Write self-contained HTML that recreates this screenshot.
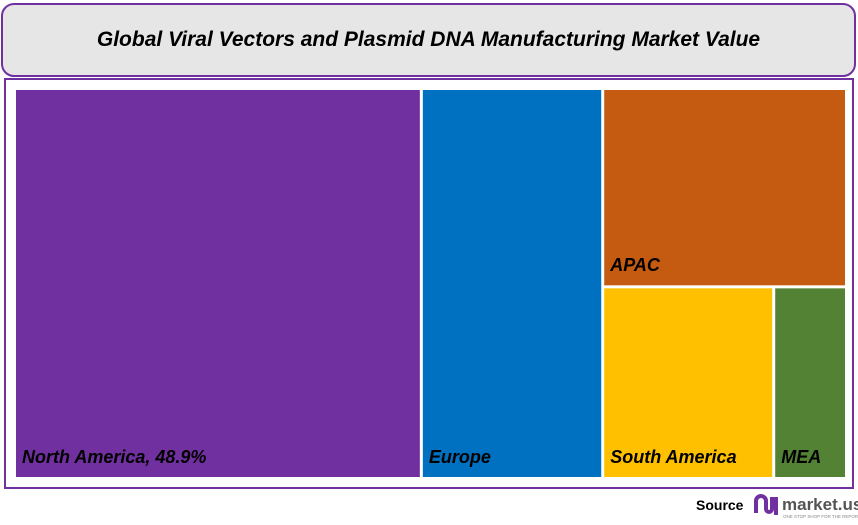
<!DOCTYPE html>
<html><head><meta charset="utf-8"><style>
body{margin:0;width:858px;height:525px;background:#fff;position:relative;overflow:hidden;font-family:"Liberation Sans",sans-serif}
#title{position:absolute;left:1px;top:3px;width:851px;height:70px;border:2px solid #7030a0;border-radius:13px;background:#e6e6e6;display:flex;align-items:center;justify-content:center;font-weight:bold;font-style:italic;font-size:21px;color:#000}
#frame{position:absolute;left:4px;top:78px;width:846px;height:407px;border:2.5px solid #7030a0}
.lbl{position:absolute;font-weight:bold;font-style:italic;font-size:18px;color:#000;white-space:nowrap}
#src{position:absolute;left:696px;top:497px;font-weight:bold;font-size:14px}
#logo{position:absolute;left:752px;top:491px}
</style></head><body>
<div id="title">Global Viral Vectors and Plasmid DNA Manufacturing Market Value</div>
<div id="frame"></div>
<svg id="tm" width="858" height="525" style="position:absolute;left:0;top:0"></svg>
<div id="src">Source</div>
<svg id="logo" width="106" height="30">
<path d="M4 22 V10 a5 5 0 0 1 10 0 V18 a3 3 0 0 0 6 0 V6" stroke="#7030a0" stroke-width="4" fill="none"/>
<rect x="22" y="6" width="4" height="18" fill="#7030a0"/>
<text x="30" y="19" font-family="Liberation Sans" font-weight="bold" font-size="17" fill="#555">market.us</text>
<text x="31" y="27" font-family="Liberation Sans" font-size="4.5" fill="#888">ONE STOP SHOP FOR THE REPORTS</text>
</svg>
<script>
const regions=["North America","Europe","APAC","South America","MEA"];
const shares=[48.9,21.8,14.9,10.1,4.3];
const labels=["North America, 48.9%","Europe","APAC","South America","MEA"];
const colors=["#7030a0","#0070c0","#c55a11","#ffc000","#548235"];
const X0=16,Y0=90,G=3,W=832,H=390;
const total=shares.reduce((a,b)=>a+b,0);
const svg=document.getElementById('tm');
function rect(i,x,y,w,h){
  const r=document.createElementNS('http://www.w3.org/2000/svg','rect');
  r.setAttribute('x',x);r.setAttribute('y',y);r.setAttribute('width',Math.max(0,w-G));r.setAttribute('height',Math.max(0,h-G));
  r.setAttribute('fill',colors[i]);
  
  
  svg.appendChild(r);
  const d=document.createElement('div');
  d.className='lbl';d.textContent=labels[i];
  d.style.left=(x+6)+'px';d.style.top=(y+h-G-30)+'px';
  
  
  document.body.appendChild(d);
}
const c0=W*shares[0]/total, c1=W*shares[1]/total, c2=W-c0-c1;
rect(0,X0,Y0,c0,H);
rect(1,X0+c0,Y0,c1,H);
const rx=X0+c0+c1;
const rest=shares[2]+shares[3]+shares[4];
const hA=H*shares[2]/rest;
rect(2,rx,Y0,c2,hA);
const wS=c2*shares[3]/(shares[3]+shares[4]);
rect(3,rx,Y0+hA,wS,H-hA);
rect(4,rx+wS,Y0+hA,c2-wS,H-hA);
</script>
</body></html>
